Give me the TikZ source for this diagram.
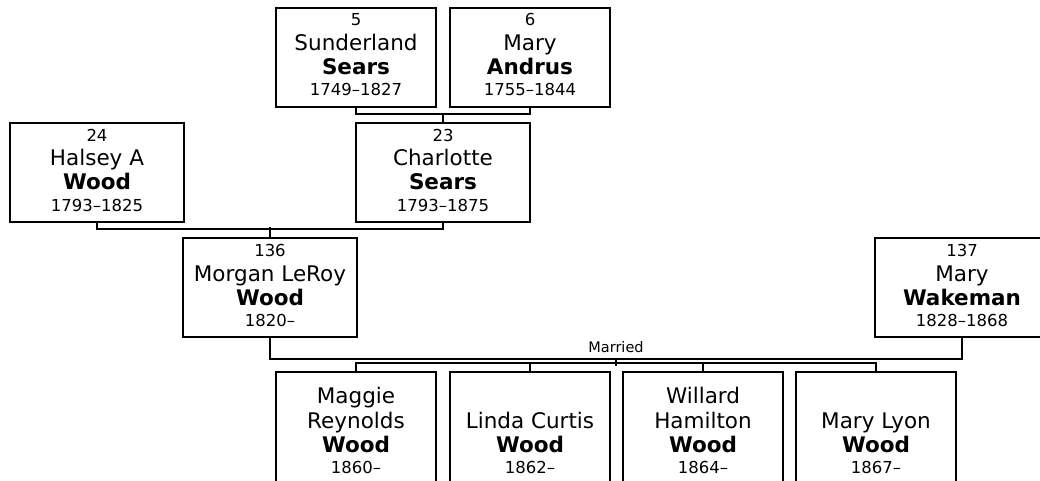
\documentclass[tikz,border=0pt]{standalone}
\usepackage{fontspec}
\setmainfont{DejaVu Sans}
\usepackage{tikz}

\newcommand{\famno}[1]{{\fontsize{16.5}{20}\selectfont #1\par}}
\newcommand{\fgiven}[1]{{\fontsize{21.5}{25}\selectfont #1\par}}
\newcommand{\fsur}[1]{{\fontsize{21.5}{24}\selectfont\bfseries #1\par}}
\newcommand{\fyears}[1]{{\fontsize{16.5}{21}\selectfont #1\par}}

\tikzset{
  box/.style={draw, line width=2pt, inner sep=0pt, anchor=north},
  elder/.style={box, text depth=11pt,
    execute at begin node={\begin{minipage}[b][88pt][b]{#1}\centering},
    execute at end node={\end{minipage}}},
  elder/.default=160pt,
  kid/.style={box, text depth=30pt,
    execute at begin node={\begin{minipage}[b][101pt][b]{160pt}\centering},
    execute at end node={\end{minipage}}},
  link/.style={line width=2pt},
  wedlabel/.style={above=5pt, inner sep=0pt, font=\fontsize{14.5}{17}\selectfont}
}

\begin{document}
\begin{tikzpicture}[x=1pt,y=-1pt]
\useasboundingbox (0,0) rectangle (1040,481);
\clip (0,0) rectangle (1040,481);

\node[elder] (p5) at (356,7) {\famno{5}\fgiven{Sunderland}\fsur{Sears}\fyears{1749–1827}};
\node[elder] (p6) at (530,7) {\famno{6}\fgiven{Mary}\fsur{Andrus}\fyears{1755–1844}};
\node[elder=174pt] (p24) at (97,122) {\famno{24}\fgiven{Halsey A}\fsur{Wood}\fyears{1793–1825}};
\node[elder=174pt] (p23) at (443,122) {\famno{23}\fgiven{Charlotte}\fsur{Sears}\fyears{1793–1875}};
\node[elder=174pt] (p136) at (270,237) {\famno{136}\fgiven{Morgan LeRoy}\fsur{Wood}\fyears{1820–}};
\node[elder=174pt] (p137) at (962,237) {\famno{137}\fgiven{Mary}\fsur{Wakeman}\fyears{1828–1868}};

\node[kid] (c1) at (356,371) {\fgiven{Maggie\\Reynolds}\fsur{Wood}\fyears{1860–}};
\node[kid] (c2) at (530,371) {\fgiven{Linda Curtis}\fsur{Wood}\fyears{1862–}};
\node[kid] (c3) at (703,371) {\fgiven{Willard\\Hamilton}\fsur{Wood}\fyears{1864–}};
\node[kid] (c4) at (876,371) {\fgiven{Mary Lyon}\fsur{Wood}\fyears{1867–}};

\draw[link] (p5.south) -- ++(0,6) -| (p6.south);
\draw[link] (p23.north) -- ++(0,-9);
\draw[link] (p24.south) -- ++(0,6) -| (p23.south);
\draw[link] (p136.north) -- ++(0,-10);
\draw[link] (p136.south) -- ++(0,21) -| node[pos=0.25, wedlabel] (wed) {Married}
  coordinate[pos=0.25] (wedmid) (p137.south);
\draw[link] (wedmid) -- ++(0,7);
\draw[link] (c1.north) -- ++(0,-8) -| (c4.north);
\draw[link] (c2.north) -- ++(0,-8);
\draw[link] (c3.north) -- ++(0,-8);
\end{tikzpicture}
\end{document}
